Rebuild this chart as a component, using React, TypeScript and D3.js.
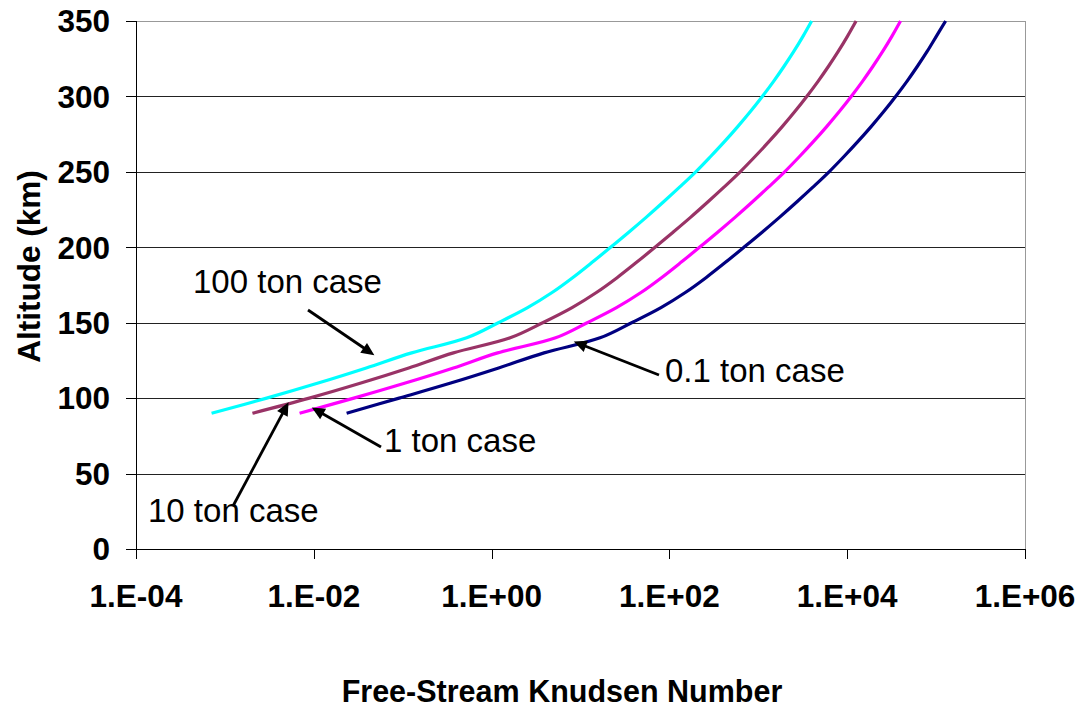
import React from "react";
import * as d3 from "d3";

const altitudes = [90, 100, 110, 120, 130, 140, 150, 160, 170, 180, 190, 200, 210, 220, 230, 240, 250, 260, 270, 280, 290, 300, 310, 320, 330, 340, 350];

const kn100ton = [7.08e-4, 2.95e-3, 1.12e-2, 3.89e-2, 0.126, 0.525, 1.19, 2.54, 4.79, 8.22, 13.5, 21.8, 34.9, 55.1, 85.5, 131, 198, 289, 416, 587, 815, 1109, 1486, 1950, 2518, 3192, 3981];
const kn10ton = [2.04e-3, 8.91e-3, 3.39e-2, 0.117, 0.372, 1.62, 3.76, 8.04, 15.1, 26.0, 42.7, 68.9, 110, 174, 270, 414, 625, 914, 1315, 1858, 2576, 3508, 4699, 6166, 7962, 10093, 12589];
const kn1ton = [6.92e-3, 2.82e-2, 0.107, 0.372, 1.17, 5.25, 11.9, 25.4, 47.9, 82.2, 135, 218, 349, 551, 855, 1309, 1977, 2891, 4159, 5875, 8147, 11092, 14859, 19498, 25177, 31915, 39811];
const kn01ton = [2.34e-2, 9.12e-2, 0.347, 1.2, 3.89, 16.6, 37.6, 80.4, 151, 260, 427, 689, 1104, 1742, 2704, 4140, 6252, 9141, 13152, 18578, 25763, 35075, 46989, 61660, 79616, 100925, 128000];

const seriesNames = ["100 ton case", "10 ton case", "1 ton case", "0.1 ton case"];
const seriesColors = ["#00FFFF", "#993366", "#FF00FF", "#000080"];

const xTickValues = [1e-4, 1e-2, 1, 1e2, 1e4, 1e6];
const xTickLabels = ["1.E-04", "1.E-02", "1.E+00", "1.E+02", "1.E+04", "1.E+06"];
const yTickValues = [0, 50, 100, 150, 200, 250, 300, 350];

// arrow tips (data coords, points on the curves)
const annTipKn = [0.048, 0.0052, 0.0095, 8.4];
const annTipAlt = [128.5, 97.2, 93.8, 137.5];

const W = 1087;
const H = 707;
const M = { left: 136, right: 1025, top: 21, bottom: 549 };
const FONT = "'Liberation Sans', Arial, Helvetica, sans-serif";

export default function App() {
  const x = d3.scaleLog().domain([1e-4, 1e6]).range([M.left, M.right]);
  const y = d3.scaleLinear().domain([0, 350]).range([M.bottom, M.top]);
  const data = [kn100ton, kn10ton, kn1ton, kn01ton];

  const line = d3
    .line<[number, number]>()
    .x((d) => x(d[0]))
    .y((d) => y(d[1]))
    .curve(d3.curveCatmullRom.alpha(0.5));

  const ann = [
    { tx: 193, ty: 293, sx: 308, sy: 310 },
    { tx: 148, ty: 522, sx: 233, sy: 506 },
    { tx: 384, ty: 452, sx: 381, sy: 447 },
    { tx: 665, ty: 382, sx: 659, sy: 375 },
  ];

  const arrowHead = (sx: number, sy: number, ex: number, ey: number) => {
    const ang = Math.atan2(ey - sy, ex - sx);
    const len = 13;
    const half = 6;
    const bx = ex - len * Math.cos(ang);
    const by = ey - len * Math.sin(ang);
    const px = -Math.sin(ang) * half;
    const py = Math.cos(ang) * half;
    return `M${ex},${ey}L${bx + px},${by + py}L${bx - px},${by - py}Z`;
  };

  return (
    <svg
      width={W}
      height={H}
      style={{ position: "absolute", left: 0, top: 0, background: "#fff" }}
      fontFamily={FONT}
    >
      <rect x={0} y={0} width={W} height={H} fill="#fff" />
      {yTickValues
        .filter((v) => v > 0 && v < 350)
        .map((v) => (
          <line
            key={"g" + v}
            x1={M.left}
            x2={M.right}
            y1={Math.round(y(v)) + 0.5}
            y2={Math.round(y(v)) + 0.5}
            stroke="#222"
            strokeWidth={1}
          />
        ))}
      <line x1={M.left} x2={M.right} y1={M.top + 0.5} y2={M.top + 0.5} stroke="#999" strokeWidth={1} />
      <line x1={M.right + 0.5} x2={M.right + 0.5} y1={M.top} y2={M.bottom} stroke="#999" strokeWidth={1} />
      <line x1={M.left + 0.5} x2={M.left + 0.5} y1={M.top} y2={M.bottom} stroke="#000" strokeWidth={1} />
      <line x1={M.left} x2={M.right} y1={M.bottom + 0.5} y2={M.bottom + 0.5} stroke="#000" strokeWidth={1} />
      {yTickValues.map((v) => (
        <g key={"yt" + v}>
          <line
            x1={M.left - 10}
            x2={M.left}
            y1={Math.round(y(v)) + 0.5}
            y2={Math.round(y(v)) + 0.5}
            stroke="#000"
          />
          <text
            x={110}
            y={y(v)}
            dy="0.36em"
            textAnchor="end"
            fontSize={31.5}
            fontWeight="bold"
            fill="#000"
          >
            {v}
          </text>
        </g>
      ))}
      {xTickValues.map((v, i) => (
        <g key={"xt" + i}>
          <line
            x1={Math.round(x(v)) + 0.5}
            x2={Math.round(x(v)) + 0.5}
            y1={M.bottom}
            y2={M.bottom + 10}
            stroke="#000"
          />
          <text
            x={x(v)}
            y={607}
            textAnchor="middle"
            fontSize={31.5}
            fontWeight="bold"
            fill="#000"
          >
            {xTickLabels[i]}
          </text>
        </g>
      ))}
      <text x={562} y={702} textAnchor="middle" fontSize={30.5} fontWeight="bold" fill="#000">
        Free-Stream Knudsen Number
      </text>
      <text
        transform={`translate(40,266.5) rotate(-90)`}
        textAnchor="middle"
        fontSize={31.5}
        fontWeight="bold"
        fill="#000"
      >
        Altitude (km)
      </text>
      {data.map((s, i) => (
        <path
          key={"s" + i}
          d={line(s.map((k, j) => [k, altitudes[j]] as [number, number])) || ""}
          fill="none"
          stroke={seriesColors[i]}
          strokeWidth={3.2}
          strokeLinejoin="round"
        />
      ))}
      {ann.map((a, i) => {
        const ex = x(annTipKn[i]);
        const ey = y(annTipAlt[i]);
        const ang = Math.atan2(ey - a.sy, ex - a.sx);
        return (
          <g key={"a" + i}>
            <line
              x1={a.sx}
              y1={a.sy}
              x2={ex - 10 * Math.cos(ang)}
              y2={ey - 10 * Math.sin(ang)}
              stroke="#000"
              strokeWidth={2.8}
            />
            <path d={arrowHead(a.sx, a.sy, ex, ey)} fill="#000" />
            <text x={a.tx} y={a.ty} fontSize={33} fill="#000">
              {seriesNames[i]}
            </text>
          </g>
        );
      })}
    </svg>
  );
}
